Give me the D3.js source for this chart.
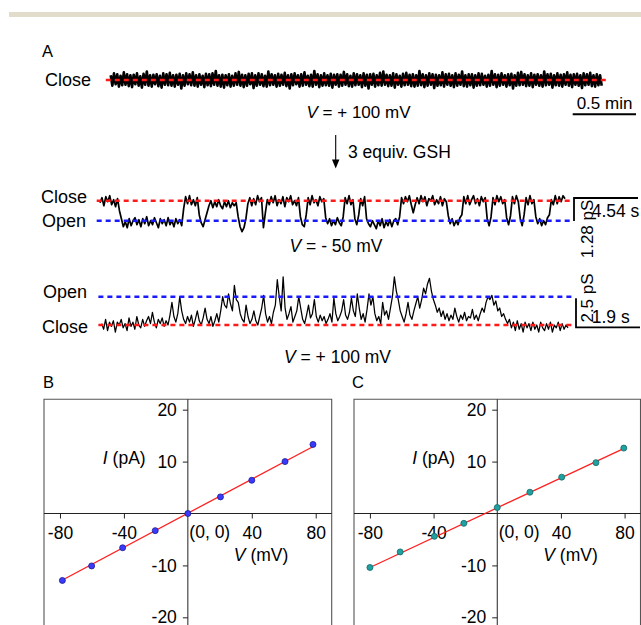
<!DOCTYPE html>
<html><head><meta charset="utf-8">
<script src="https://cdn.jsdelivr.net/npm/d3@7"></script>
<style>
body{margin:0;background:#fff}
svg{display:block}
text{font-family:"Liberation Sans",Arial,sans-serif;fill:#000}
</style>
</head><body>
<svg id="c" width="641" height="625"></svg>
<script>
// ---------- DATA ----------
// Trace 1: V = +100 mV before GSH (closed, noise only), arbitrary current units
const trace1 = [
0.5,-0.6,0.7,-0.45,0.6,-0.7,0.45,-0.55,0.8,-0.5,
0.6,-0.65,0.5,-0.75,0.55,-0.45,0.7,-0.6,0.4,-0.8,
0.65,-0.5,0.9,-0.6,0.5,-0.7,0.55,-0.45,0.6,-0.65,
0.45,-0.8,0.7,-0.5,0.6,-0.55,0.75,-0.6,0.5,-0.7,
0.55,-0.5,0.65,-0.9,0.5,-0.6,0.7,-0.45,0.6,-0.55,
0.8,-0.6,0.5,-0.7,0.6,-0.5,0.45,-0.75,0.65,-0.55,
0.6,-0.65,0.7,-0.5,0.95,-0.6,0.5,-0.7,0.55,-0.8,
0.5,-0.55,0.6,-0.7,0.45,-0.6,0.7,-0.5,0.85,-0.6,
0.55,-0.75,0.5,-0.6,0.65,-0.45,0.7,-0.85,0.5,-0.6,
0.7,-0.5,0.6,-0.65,0.45,-0.7,0.9,-0.55,0.6,-0.5,
0.5,-0.7,0.65,-0.6,0.55,-0.5,0.75,-0.65,0.5,-0.9,
0.6,-0.55,0.7,-0.45,0.5,-0.7,0.6,-0.6,0.8,-0.5,
0.45,-0.65,0.55,-0.7,0.95,-0.5,0.6,-0.75,0.5,-0.6,
0.7,-0.55,0.5,-0.6,0.65,-0.8,0.55,-0.5,0.6,-0.7,
0.55,-0.6,0.85,-0.5,0.6,-0.65,0.45,-0.7,0.7,-0.55,
0.6,-0.5,0.5,-0.75,0.7,-0.6,0.55,-0.9,0.6,-0.5,
0.65,-0.7,0.5,-0.55,0.75,-0.6,0.9,-0.5,0.55,-0.65,
0.5,-0.6,0.7,-0.8,0.6,-0.5,0.45,-0.7,0.65,-0.55,
0.75,-0.5,0.55,-0.65,0.6,-0.7,0.5,-0.6,0.95,-0.55,
0.6,-0.75,0.5,-0.6,0.7,-0.5,0.6,-0.85,0.55,-0.6,
0.5,-0.55,0.8,-0.7,0.6,-0.5,0.65,-0.6,0.5,-0.75,
0.7,-0.6,0.55,-0.5,0.9,-0.65,0.5,-0.7,0.6,-0.55,
0.6,-0.8,0.5,-0.6,0.7,-0.55,0.65,-0.5,0.45,-0.7,
0.55,-0.6,0.95,-0.5,0.6,-0.75,0.55,-0.6,0.7,-0.5,
0.5,-0.7,0.6,-0.55,0.65,-0.9,0.5,-0.6,0.75,-0.55,
0.85,-0.5,0.6,-0.65,0.5,-0.6,0.7,-0.75,0.55,-0.5,
0.6,-0.6,0.5,-0.7,0.9,-0.55,0.6,-0.5,0.65,-0.8,
0.5,-0.55,0.7,-0.6,0.55,-0.7,0.6,-0.5,0.8,-0.6,
0.55,-0.75,0.6,-0.5,0.65,-0.6,0.5,-0.85,0.7,-0.55,
0.6,-0.5,0.75,-0.65,0.5,-0.7,0.6,-0.55,0.5,-0.6
];
// Trace 2: V = -50 mV after GSH; 0 = closed, -1 = open level
const trace2 = [
-0.1,0.15,-0.25,0.2,-0.05,0.25,-0.2,0.05,-0.3,0.1,
-0.5,-0.9,
-1.3,-1.05,-1.35,-0.9,-1.25,-1.0,-0.85,-1.2,-0.95,-1.3,-0.9,-1.15,-0.8,-1.25,-1.0,-1.2,-0.85,-1.1,-1.35,-0.9,-1.15,-0.95,-1.25,-0.85,-1.2,-1.0,-1.3,-0.9,-1.15,-0.95,-1.25,
-0.4,
0.2,-0.15,0.25,-0.2,0.05,-0.25,0.15,
-0.7,-1.1,-1.3,-0.95,-0.6,
-0.25,0.0,-0.35,-0.05,-0.3,0.05,-0.25,-0.4,-0.05,-0.3,0.0,-0.35,-0.1,-0.25,-0.1,
-0.8,-1.3,-1.55,-1.35,-0.9,
-0.15,0.15,-0.25,0.1,-0.2,0.25,-0.05,0.15,
-1.35,-0.6,
0.05,-0.2,0.2,-0.1,0.25,-0.25,0.05,-0.15,0.2,-0.3,0.15,-0.05,0.25,-0.2,0.0,-0.25,0.15,
-0.8,-1.2,-1.3,-0.7,
0.15,-0.2,0.25,-0.1,0.05,-0.25,0.2,-0.05,0.1,
-0.85,-1.15,-0.9,-1.25,-1.0,-1.2,-0.85,-1.1,-1.25,-0.8,
0.15,-0.15,0.25,-0.2,0.05,
-0.9,-1.2,-0.7,
0.1,-0.25,0.2,
-0.9,-1.15,-1.3,-1.0,-1.2,-1.4,-1.0,-1.25,-0.9,-1.35,-1.05,-1.25,-0.95,-1.3,-1.0,-0.9,-1.2,-0.8,
0.15,-0.15,0.2,-0.05,0.25,-0.2,-0.6,-0.2,0.15,-0.15,0.25,-0.05,0.2,-0.25,0.1,0.0,0.25,-0.2,0.05,-0.15,0.2,-0.25,0.1,-0.05,
-0.75,-1.15,-0.9,-1.25,-1.0,-1.2,-0.85,-0.7,
0.2,-0.15,0.25,-0.2,0.05,0.25,-0.15,0.1,-0.25,0.2,-0.05,0.15,
-0.9,-1.25,-0.8,
0.15,-0.2,0.25,-0.05,0.2,-0.15,0.05,
-0.85,-1.2,-0.75,
0.2,-0.15,0.25,-0.05,
-0.9,-1.25,-0.7,
0.15,-0.2,0.25,-0.15,0.05,
-0.8,-1.15,-0.9,-1.25,-1.0,-1.2,-0.85,-0.7,
0.05,-0.2,0.25,-0.15,0.2,-0.05,0.25,0.1
];
// Trace 3: V = +100 mV after GSH; 0 = closed, 1 = open level
const trace3 = [
0.05,-0.15,0.2,-0.2,0.1,-0.05,0.15,-0.25,0.1,0.0,
0.2,-0.1,0.05,-0.2,0.25,-0.05,0.1,-0.15,0.3,0.0,
-0.1,0.2,-0.05,0.15,0.3,0.05,0.45,0.1,-0.1,0.2,
0.05,0.25,-0.05,0.15,0.0,0.35,0.8,0.3,0.1,0.4,
1.0,0.5,0.2,0.05,0.3,0.1,0.35,-0.05,0.2,0.5,
0.15,0.0,0.25,0.6,0.2,0.05,0.3,-0.05,0.15,0.4,
0.1,0.5,1.0,0.7,0.6,1.1,0.75,0.5,1.4,0.9,
0.8,0.4,0.2,0.1,0.7,0.3,0.05,0.2,0.5,0.15,
0.0,0.3,0.6,1.05,0.4,0.1,0.3,0.05,0.45,0.7,
1.6,1.0,0.5,1.7,0.6,0.2,0.4,0.65,0.1,0.3,
0.5,1.0,0.6,0.2,0.05,0.35,0.7,0.25,0.4,0.9,
0.3,0.1,0.35,0.15,0.3,0.05,0.2,0.4,0.1,0.95,
0.4,0.15,0.3,0.5,0.9,0.35,0.2,0.45,0.95,0.5,
0.3,1.1,0.6,0.2,0.4,0.1,0.55,1.1,0.7,1.0,
0.4,0.15,0.3,0.05,0.8,0.35,0.5,0.2,0.6,1.0,
1.7,1.2,0.9,0.5,0.3,0.1,0.4,0.8,0.35,0.2,
0.5,0.75,1.0,0.6,0.9,1.3,1.1,1.45,1.65,1.2,
0.9,0.7,0.45,0.6,0.3,0.5,0.2,0.4,0.15,0.35,
0.2,0.6,0.3,0.1,0.35,0.2,0.45,0.15,0.3,0.25,
0.55,0.2,0.35,0.15,0.4,0.6,0.45,0.8,1.0,0.9,
1.05,0.7,0.85,0.5,0.6,0.3,0.4,0.2,0.05,0.2,
-0.1,0.1,-0.2,0.15,-0.15,0.05,-0.25,0.1,-0.1,0.05,
-0.2,0.1,-0.15,0.0,-0.25,0.1,-0.1,-0.2,0.05,-0.15,
0.1,-0.25,0.0,-0.1,0.1,-0.2,0.05,-0.15,0.0,-0.1
];

// I-V data, panel B
const voltsB = [-78.5,-60.2,-40.8,-20.4,0,20.4,40,60.8,78.3];
const currB  = [-12.9,-10.1,-6.6,-3.3,0,3.2,6.4,10,13.3];
const fitVB = [-79,79];
const fitIB = [-12.9,13.0];
// I-V data, panel C
const voltsC = [-80,-61,-39.5,-21,0,20.5,40.5,62,79.5];
const currC  = [-10.4,-7.4,-4.4,-1.9,1.15,4.1,7.0,9.8,12.6];
const fitVC = [-80,80];
const fitIC = [-10.4,12.6];

const xTicks = [-80,-40,40,80];
const yTicks = [20,10,-10,-20];

// ---------- DRAW ----------
const svg = d3.select("#c");
const FONT = "'Liberation Sans',Arial,sans-serif";
const PF = 17.5; // panel font size

svg.append("rect").attr("x",9).attr("y",12).attr("width",632).attr("height",5).attr("fill","#e2dccb");

function txt(x,y,s,size,anchor){
  return svg.append("text").attr("x",x).attr("y",y).attr("font-size",size)
    .attr("text-anchor",anchor||"start").text(s);
}
function vLabel(x,y,rest,size){
  const t = svg.append("text").attr("x",x).attr("y",y).attr("font-size",size).attr("text-anchor","middle");
  t.append("tspan").attr("font-style","italic").text("V");
  t.append("tspan").text(rest);
  return t;
}

txt(42,57,"A",16.5);

function dashed(y,x0,x1,color){
  svg.append("line").attr("x1",x0).attr("x2",x1).attr("y1",y).attr("y2",y)
    .attr("stroke",color).attr("stroke-width",2.6).attr("stroke-dasharray","5,4");
}
function drawTrace(data,xr,ys,w){
  const xs = d3.scaleLinear().domain([0,data.length-1]).range(xr);
  svg.append("path").datum(data)
    .attr("d", d3.line().x((d,i)=>xs(i)).y(d=>ys(d)))
    .attr("fill","none").attr("stroke","#000").attr("stroke-width",w).attr("stroke-linejoin","round");
  return xs;
}

// Row 1
const y1 = d3.scaleLinear().domain([-1,1]).range([89.5,70.5]);
const xs1 = drawTrace(trace1,[110.7,601.7],y1,2.6);
dashed(y1(0), xs1(-3), xs1(trace1.length+3), "#ff1a1a");
txt(91,86,"Close",18,"end");
vLabel(358.5,118," = + 100 mV",17);
txt(604.5,109,"0.5 min",17,"middle");
svg.append("line").attr("x1",572.7).attr("x2",636).attr("y1",114.3).attr("y2",114.3).attr("stroke","#000").attr("stroke-width",2);

// arrow
svg.append("line").attr("x1",335.7).attr("x2",335.7).attr("y1",135).attr("y2",161).attr("stroke","#000").attr("stroke-width",1.1);
svg.append("path").attr("d","M332,159.5L339.4,159.5L335.7,168.5Z").attr("fill","#000");
txt(348,158,"3 equiv. GSH",17.5);

// Row 2
const y2 = d3.scaleLinear().domain([-1,0]).range([220.7,200.7]);
const xs2 = drawTrace(trace2,[100,565],y2,1.7);
dashed(y2(0), xs2(-1.7), xs2(trace2.length+2.8), "#ff1a1a");
dashed(y2(-1), xs2(-1.7), xs2(trace2.length+2.8), "#1a1aff");
txt(87,203,"Close",18,"end");
txt(86,227,"Open",18,"end");
vLabel(336,251.7," = - 50 mV",17.5);
svg.append("path").attr("d","M574,221V198H638").attr("fill","none").attr("stroke","#000").attr("stroke-width",1.8);
txt(591.7,216.7,"4.54 s",17.5);
svg.append("text").attr("transform","translate(592.5,229) rotate(-90)").attr("font-size",17)
  .attr("text-anchor","middle").text("1.28 pS");

// Row 3
const y3 = d3.scaleLinear().domain([0,1]).range([325,296.7]);
const xs3 = drawTrace(trace3,[101.7,568],y3,1.25);
dashed(y3(1), xs3(-1.7), xs3(trace3.length+1.6), "#1a1aff");
dashed(y3(0), xs3(-1.7), xs3(trace3.length+1.6), "#ff1a1a");
txt(87,298,"Open",18,"end");
txt(88,332.5,"Close",18,"end");
vLabel(337.5,363," = + 100 mV",17.5);
svg.append("path").attr("d","M576,298.3V327.3H640").attr("fill","none").attr("stroke","#000").attr("stroke-width",1.8);
txt(591.7,323,"1.9 s",17.5);
svg.append("text").attr("transform","translate(592.5,298) rotate(-90)").attr("font-size",17)
  .attr("text-anchor","middle").text("2.5 pS");

// I-V panels
function panel(label, lx, xr, volts, currs, fitV, fitI, fill, edge){
  const xs = d3.scaleLinear().domain([-90,90]).range(xr);
  const ys = d3.scaleLinear().domain([-22,22]).range([627.7,399.3]);
  const g = svg.append("g");
  g.append("text").attr("x",lx).attr("y",388).attr("font-size",16.5).text(label);
  g.append("path").attr("d",`M${xr[0]},${ys(-22)}V${ys(22)}H${xr[1]}V${ys(-22)}`)
    .attr("fill","none").attr("stroke","#555").attr("stroke-width",1.1);
  g.append("line").attr("x1",xs(0)).attr("x2",xs(0)).attr("y1",ys(22)).attr("y2",ys(-22)).attr("stroke","#222").attr("stroke-width",1);
  g.append("line").attr("x1",xr[0]).attr("x2",xr[1]).attr("y1",ys(0)).attr("y2",ys(0)).attr("stroke","#222").attr("stroke-width",1);
  const ya = g.append("g").attr("transform",`translate(${xs(0)},0)`)
    .call(d3.axisLeft(ys).tickValues(yTicks).tickSize(5).tickPadding(6).tickFormat(d=>String(d)));
  const xa = g.append("g").attr("transform",`translate(0,${ys(0)})`)
    .call(d3.axisBottom(xs).tickValues(xTicks).tickSize(5).tickPadding(8).tickFormat(d=>String(d)));
  [ya,xa].forEach(a=>{
    a.select(".domain").remove();
    a.attr("font-family",FONT).attr("font-size",PF);
    a.selectAll("line").attr("stroke","#222");
    a.selectAll("text").attr("fill","#000");
  });
  const t1 = g.append("text").attr("x",xs(0)-85).attr("y",ys(0)-50).attr("font-size",PF);
  t1.append("tspan").attr("font-style","italic").text("I");
  t1.append("tspan").text(" (pA)");
  const t2 = g.append("text").attr("x",xs(0)+46).attr("y",ys(0)+47.5).attr("font-size",PF);
  t2.append("tspan").attr("font-style","italic").text("V");
  t2.append("tspan").text(" (mV)");
  g.append("text").attr("x",xs(0)+1.5).attr("y",ys(0)+24).attr("font-size",PF).text("(0, 0)");
  g.append("line").attr("x1",xs(fitV[0])).attr("x2",xs(fitV[1])).attr("y1",ys(fitI[0])).attr("y2",ys(fitI[1]))
    .attr("stroke","#ff2020").attr("stroke-width",1.3);
  g.selectAll("circle.pt").data(volts).enter().append("circle").attr("class","pt")
    .attr("cx",d=>xs(d)).attr("cy",(d,i)=>ys(currs[i])).attr("r",3)
    .attr("fill",fill).attr("stroke",edge).attr("stroke-width",0.8);
}
panel("B", 43, [44,331.7], voltsB, currB, fitVB, fitIB, "#3a3aff", "#1a1a90");
panel("C", 352, [354,640.5], voltsC, currC, fitVC, fitIC, "#20a0a0", "#106868");
</script>
</body></html>
